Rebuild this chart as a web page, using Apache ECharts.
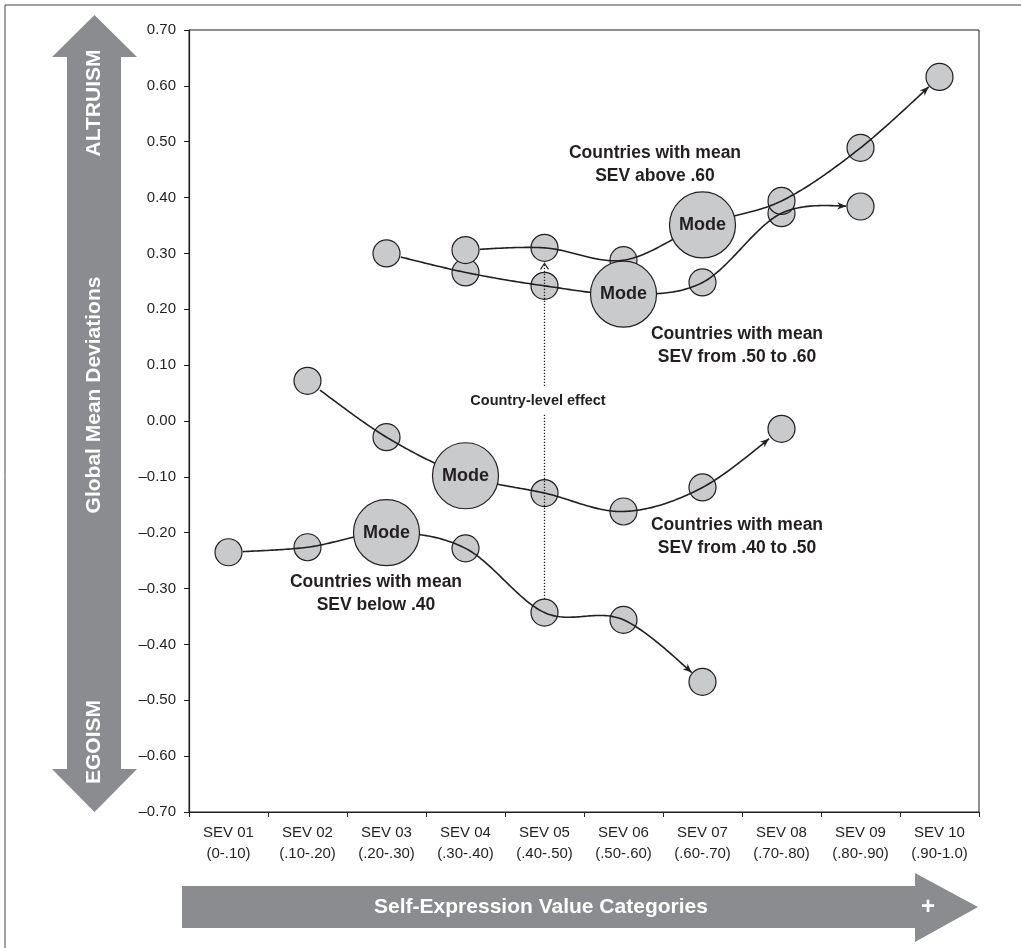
<!DOCTYPE html>
<html><head><meta charset="utf-8">
<script src="https://cdn.jsdelivr.net/npm/echarts@6/dist/echarts.min.js"></script>
<style>html,body{margin:0;padding:0;background:#fff}#c{width:1021px;height:948px}</style>
</head><body><div id="c"></div>
<script>
// ---------- DATA ----------
const categories = ['SEV 01\n(0-.10)', 'SEV 02\n(.10-.20)', 'SEV 03\n(.20-.30)', 'SEV 04\n(.30-.40)', 'SEV 05\n(.40-.50)',
  'SEV 06\n(.50-.60)', 'SEV 07\n(.60-.70)', 'SEV 08\n(.70-.80)', 'SEV 09\n(.80-.90)', 'SEV 10\n(.90-1.0)'];
const sevBelow40 = [-0.235, -0.226, -0.200, -0.228, -0.343, -0.356, -0.467, null, null, null];
const sev40to50  = [null, 0.072, -0.029, -0.098, -0.129, -0.162, -0.119, -0.014, null, null];
const sev50to60  = [null, null, 0.300, 0.266, 0.242, 0.227, 0.248, 0.372, 0.384, null];
const sevAbove60 = [null, null, null, 0.306, 0.310, 0.288, 0.351, 0.394, 0.489, 0.616];
const modeIndex  = [2, 3, 5, 6];
const groups = [sevBelow40, sev40to50, sev50to60, sevAbove60];
const groupLabels = ['Countries with mean\nSEV below .40', 'Countries with mean\nSEV from .40 to .50',
  'Countries with mean\nSEV from .50 to .60', 'Countries with mean\nSEV above .60'];
const effectCategory = 4;           // country-level effect drawn at SEV 05
const yMin = -0.7, yMax = 0.7, yStep = 0.1;

// ---------- STYLE ----------
const INK = '#231f20', FILL = '#c9cacc', ARROW = '#8b8c8f';
const FONT = '"Liberation Sans", Arial, Helvetica, sans-serif';
const R_SMALL = 13.5, R_MODE = 33;

const smallPts = [], modePts = [];
groups.forEach((arr, g) => arr.forEach((v, i) => {
  if (v == null) return;
  (i === modeIndex[g] ? modePts : smallPts).push([i, v]);
}));

function catmull(pts, steps) {
  const out = [pts[0]];
  for (let i = 0; i < pts.length - 1; i++) {
    const p0 = pts[i - 1] || pts[i], p1 = pts[i], p2 = pts[i + 1], p3 = pts[i + 2] || pts[i + 1];
    const c1 = [p1[0] + (p2[0] - p0[0]) / 6, p1[1] + (p2[1] - p0[1]) / 6];
    const c2 = [p2[0] - (p3[0] - p1[0]) / 6, p2[1] - (p3[1] - p1[1]) / 6];
    for (let s = 1; s <= steps; s++) {
      const t = s / steps, m = 1 - t;
      const a = m * m * m, b = 3 * m * m * t, c = 3 * m * t * t, d = t * t * t;
      out.push([a * p1[0] + b * c1[0] + c * c2[0] + d * p2[0], a * p1[1] + b * c1[1] + c * c2[1] + d * p2[1]]);
    }
  }
  return out;
}
const dist = (a, b) => Math.hypot(a[0] - b[0], a[1] - b[1]);

function renderItem(params, api) {
  const k = params.dataIndex;
  if (k < groups.length) {
    const arr = groups[k];
    const pts = [];
    arr.forEach((v, i) => { if (v != null) pts.push(api.coord([i, v])); });
    let curve = catmull(pts, 40);
    const first = pts[0], last = pts[pts.length - 1];
    curve = curve.filter(p => dist(p, first) >= R_SMALL);
    while (curve.length > 2 && dist(curve[curve.length - 1], last) < R_SMALL + 0.5) curve.pop();
    const tip = curve[curve.length - 1];
    let back = curve[curve.length - 1];
    for (let j = curve.length - 1; j >= 0; j--) { if (dist(curve[j], tip) > 8) { back = curve[j]; break; } }
    const ux = (tip[0] - back[0]) / dist(tip, back), uy = (tip[1] - back[1]) / dist(tip, back);
    const L = 9, W = 3.6;
    const base = [tip[0] - ux * L, tip[1] - uy * L];
    return {
      type: 'group',
      children: [
        { type: 'polyline', shape: { points: curve }, style: { stroke: INK, lineWidth: 1.6, fill: null } },
        { type: 'polygon', shape: { points: [tip, [base[0] - uy * W, base[1] + ux * W], [base[0] + ux * 2.5, base[1] + uy * 2.5], [base[0] + uy * W, base[1] - ux * W]] },
          style: { fill: INK } }
      ]
    };
  }
  // country-level effect dotted arrow
  const pb = api.coord([effectCategory, sevBelow40[effectCategory]]);
  const pt = api.coord([effectCategory, sevAbove60[effectCategory]]);
  const y0 = pb[1] - R_SMALL, y1 = pt[1] + R_SMALL + 2;
  return {
    type: 'group',
    children: [
      { type: 'line', shape: { x1: pb[0], y1: y0, x2: pt[0], y2: y1 + 1 },
        style: { stroke: INK, lineWidth: 1.3, lineDash: [1.4, 1.6] } },
      { type: 'polyline', shape: { points: [[pt[0] - 4, y1 + 6], [pt[0], y1], [pt[0] + 4, y1 + 6]] },
        style: { stroke: INK, lineWidth: 1.1, fill: null } }
    ]
  };
}

const fmt = v => {
  if (Math.abs(v) < 1e-9) return '0.00';
  const s = Math.abs(v).toFixed(2);
  return v < 0 ? '\u2013' + s : s;
};

const chart = echarts.init(document.getElementById('c'), null, { renderer: 'canvas' });
chart.setOption({
  animation: false,
  backgroundColor: '#fff',
  grid: { left: 189, right: 42, top: 30, bottom: 136, show: true, borderColor: INK, borderWidth: 1 },
  xAxis: {
    type: 'category', data: categories, boundaryGap: true,
    axisLine: { onZero: false, lineStyle: { color: INK, width: 1.2 } },
    axisTick: { show: true, length: 5, lineStyle: { color: INK } },
    axisLabel: { color: INK, fontFamily: FONT, fontSize: 15, lineHeight: 21, margin: 10, interval: 0 },
    splitLine: { show: false }
  },
  yAxis: {
    type: 'value', min: yMin, max: yMax, interval: yStep,
    axisLine: { show: true, onZero: false, lineStyle: { color: INK, width: 1.2 } },
    axisTick: { show: true, length: 5, lineStyle: { color: INK } },
    axisLabel: { color: INK, fontFamily: FONT, fontSize: 15, margin: 13, formatter: fmt },
    splitLine: { show: false }
  },
  series: [
    { type: 'scatter', name: 'small', data: smallPts, symbolSize: R_SMALL * 2, z: 2,
      itemStyle: { color: FILL, borderColor: INK, borderWidth: 1.2, opacity: 1 } },
    { type: 'custom', name: 'curves', coordinateSystem: 'cartesian2d', renderItem: renderItem, z: 3, clip: false, silent: true,
      data: [[0, 0], [1, 0], [2, 0], [3, 0], [4, 0]], encode: { x: 0, y: 1 } },
    { type: 'scatter', name: 'mode', data: modePts, symbolSize: R_MODE * 2, z: 4,
      itemStyle: { color: FILL, borderColor: INK, borderWidth: 1.2, opacity: 1 },
      label: { show: true, position: 'inside', formatter: 'Mode', color: INK, fontFamily: FONT, fontWeight: 'bold', fontSize: 18 } }
  ],
  graphic: [
    // outer frame
    { type: 'polyline', shape: { points: [[5, 948], [5, 5], [1021, 5]] }, style: { stroke: '#444', lineWidth: 1, fill: null }, z: 100 },
    // vertical double arrow
    { type: 'polygon', shape: { points: [[94.5, 15], [137, 57], [121, 57], [121, 769], [137, 769], [94.5, 812], [52, 769], [67, 769], [67, 57], [52, 57]] },
      style: { fill: ARROW }, z: 100 },
    { type: 'text', x: 94, y: 103, rotation: Math.PI / 2, style: { text: 'ALTRUISM', fill: '#fff', font: 'bold 21px ' + FONT, align: 'center', verticalAlign: 'middle' }, z: 101 },
    { type: 'text', x: 94, y: 395, rotation: Math.PI / 2, style: { text: 'Global Mean Deviations', fill: '#fff', font: 'bold 21px ' + FONT, align: 'center', verticalAlign: 'middle' }, z: 101 },
    { type: 'text', x: 94, y: 742, rotation: Math.PI / 2, style: { text: 'EGOISM', fill: '#fff', font: 'bold 21px ' + FONT, align: 'center', verticalAlign: 'middle' }, z: 101 },
    // horizontal arrow
    { type: 'polygon', shape: { points: [[182, 886], [915, 886], [915, 873], [978, 907], [915, 942], [915, 928], [182, 928]] },
      style: { fill: ARROW }, z: 100 },
    { type: 'text', x: 541, y: 907, style: { text: 'Self-Expression Value Categories', fill: '#fff', font: 'bold 21px ' + FONT, align: 'center', verticalAlign: 'middle' }, z: 101 },
    { type: 'text', x: 928, y: 907, style: { text: '+', fill: '#fff', font: 'bold 24px ' + FONT, align: 'center', verticalAlign: 'middle' }, z: 101 },
    // annotations
    { type: 'text', x: 655, y: 165, style: { text: groupLabels[3], fill: INK, font: 'bold 17.5px ' + FONT, lineHeight: 23, align: 'center', verticalAlign: 'middle' }, z: 101 },
    { type: 'text', x: 737, y: 346, style: { text: groupLabels[2], fill: INK, font: 'bold 17.5px ' + FONT, lineHeight: 23, align: 'center', verticalAlign: 'middle' }, z: 101 },
    { type: 'text', x: 737, y: 537, style: { text: groupLabels[1], fill: INK, font: 'bold 17.5px ' + FONT, lineHeight: 23, align: 'center', verticalAlign: 'middle' }, z: 101 },
    { type: 'text', x: 376, y: 594, style: { text: groupLabels[0], fill: INK, font: 'bold 17.5px ' + FONT, lineHeight: 23, align: 'center', verticalAlign: 'middle' }, z: 101 },
    { type: 'text', x: 538, y: 401, style: { text: 'Country-level effect', fill: INK, font: 'bold 14.5px ' + FONT, align: 'center', verticalAlign: 'middle',
      backgroundColor: '#fff', padding: [6, 2] }, z: 101 }
  ]
});
</script></body></html>
